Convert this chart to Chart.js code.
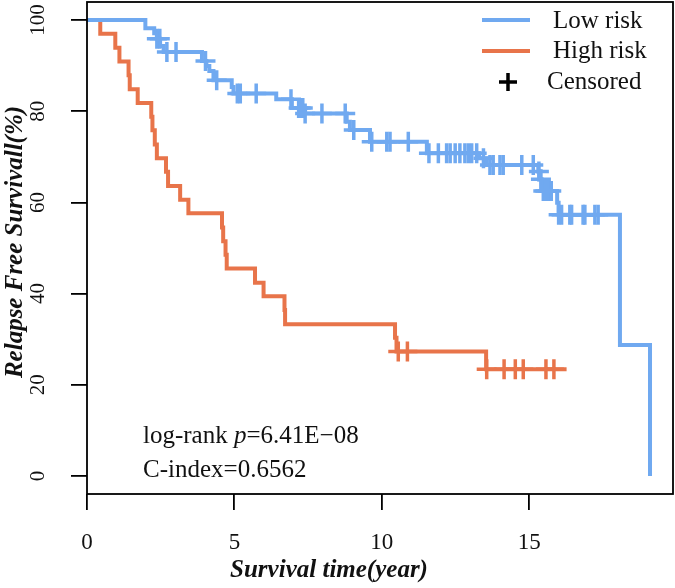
<!DOCTYPE html>
<html>
<head>
<meta charset="utf-8">
<script src="https://cdn.jsdelivr.net/npm/chart.js@4/dist/chart.umd.min.js"></script>
<style>
  html, body { margin: 0; padding: 0; background: #fff; }
  #wrap { width: 675px; height: 588px; }
</style>
</head>
<body>
<div id="wrap"><canvas id="km" width="675" height="588"></canvas></div>
<script>
// tick labels
const xTicks = [0, 5, 10, 15];
const yTicks = [0, 20, 40, 60, 80, 100];

// Low risk: step times (year) and survival (%) after each step
const lowTime = [0, 1.98, 2.28, 2.37, 2.48, 2.60, 3.90, 4.05, 4.15, 4.29, 4.91, 4.97, 6.42, 6.95, 7.40, 8.81, 8.92, 9.60, 11.53, 13.30, 13.56, 15.31, 15.35, 15.42, 15.95, 16.00, 18.08, 19.10];
const lowSurv = [100, 98.2, 97.1, 95.9, 94.3, 93.0, 91.0, 89.9, 88.8, 86.8, 85.3, 83.9, 82.6, 80.7, 79.5, 77.7, 75.9, 73.3, 70.8, 69.7, 68.2, 66.8, 65.1, 62.5, 59.9, 57.3, 28.7, 0];
const lowCens = [2.37, 2.47, 2.71, 3.02, 4.02, 4.40, 5.10, 5.20, 5.74, 6.92, 7.18, 7.25, 7.32, 7.40, 7.97, 8.76, 9.05, 9.66, 10.17, 10.28, 10.90, 11.60, 11.92, 12.20, 12.32, 12.49, 12.65, 12.82, 12.94, 13.05, 13.22, 13.45, 13.67, 13.78, 14.01, 14.12, 14.75, 15.14, 15.33, 15.40, 15.48, 15.55, 15.65, 15.75, 16.00, 16.10, 16.38, 16.44, 16.83, 16.89, 17.23, 17.34];

// High risk
const highTime = [0, 0.45, 0.96, 1.10, 1.41, 1.45, 1.72, 2.18, 2.22, 2.30, 2.37, 2.68, 2.75, 3.16, 3.44, 4.58, 4.62, 4.70, 4.74, 5.70, 5.99, 6.70, 6.72, 10.45, 10.50, 13.54, 16.27];
const highSurv = [100, 97.0, 93.9, 90.9, 87.9, 84.8, 81.8, 78.8, 75.8, 72.7, 69.7, 66.7, 63.6, 60.6, 57.6, 54.5, 51.5, 48.5, 45.5, 42.4, 39.4, 36.4, 33.3, 30.3, 27.3, 23.4, 23.4];
const highCens = [10.56, 10.87, 13.56, 14.15, 14.53, 14.80, 15.57, 15.84];

const blue = "#70a9f0";
const orange = "#e8744a";
const serif = "'Liberation Serif', 'Times New Roman', serif";

// value of the step curve at time t
const stepAt = (times, surv, t) => {
  let v = surv[0];
  times.forEach((x, i) => { if (x <= t) v = surv[i]; });
  return v;
};

const curve = (times, surv) => times.map((t, i) => ({x: t, y: surv[i]}));
const marks = (cens, times, surv) => cens.map(t => ({x: t, y: stepAt(times, surv, t)}));

const lineSet = (label, data, color) => ({
  label: label, data: data, borderColor: color, borderWidth: 4,
  pointRadius: 0, stepped: "before", fill: false, tension: 0
});
const censSet = (label, data, color) => ({
  label: label, data: data, showLine: false, pointStyle: "cross",
  pointRadius: 10, pointBorderWidth: 3.5, pointBorderColor: color, borderColor: color
});

const noPad = axis => {
  axis.paddingTop = 0; axis.paddingBottom = 0;
  axis.paddingLeft = 0; axis.paddingRight = 0;
};

// frame, legend and notes
const notes = {
  id: "notes",
  afterDraw(chart) {
    const {ctx, chartArea: a} = chart;
    ctx.save();
    ctx.strokeStyle = "#000";
    ctx.lineWidth = 1.8;
    ctx.strokeRect(a.left, a.top, a.right - a.left, a.bottom - a.top);

    // legend
    ctx.lineWidth = 4;
    ctx.strokeStyle = blue;
    ctx.beginPath(); ctx.moveTo(482, 20); ctx.lineTo(530, 20); ctx.stroke();
    ctx.strokeStyle = orange;
    ctx.beginPath(); ctx.moveTo(482, 51); ctx.lineTo(530, 51); ctx.stroke();
    ctx.strokeStyle = "#000";
    ctx.lineWidth = 3.5;
    ctx.beginPath();
    ctx.moveTo(499, 82); ctx.lineTo(517, 82);
    ctx.moveTo(508, 73); ctx.lineTo(508, 91);
    ctx.stroke();

    ctx.fillStyle = "#111";
    ctx.font = "25px " + serif;
    ctx.textBaseline = "middle";
    ctx.textAlign = "left";
    ctx.fillText("Low risk", 553, 21);
    ctx.fillText("High risk", 553, 51);
    ctx.fillText("Censored", 547, 82);

    // log-rank text
    ctx.textBaseline = "alphabetic";
    let x = 143;
    ctx.fillText("log-rank ", x, 443);
    x += ctx.measureText("log-rank ").width;
    ctx.font = "italic 25px " + serif;
    ctx.fillText("p", x, 443);
    x += ctx.measureText("p").width;
    ctx.font = "25px " + serif;
    ctx.fillText("=6.41E\u221208", x, 443);
    ctx.fillText("C-index=0.6562", 143, 477);

    // axis titles
    ctx.font = "bold italic 25px " + serif;
    ctx.textAlign = "center";
    ctx.textBaseline = "middle";
    ctx.fillText("Survival time(year)", 329, 571);
    ctx.translate(16, 242);
    ctx.rotate(-Math.PI / 2);
    ctx.fillText("Relapse Free Survivall(%)", 0, 0);
    ctx.restore();
  }
};

new Chart(document.getElementById("km"), {
  type: "line",
  data: {
    datasets: [
      lineSet("Low risk", curve(lowTime, lowSurv), blue),
      lineSet("High risk", curve(highTime, highSurv), orange),
      censSet("Low risk censored", marks(lowCens, lowTime, lowSurv), blue),
      censSet("High risk censored", marks(highCens, highTime, highSurv), orange)
    ]
  },
  options: {
    responsive: false,
    animation: false,
    layout: { autoPadding: false, padding: { top: 2, right: 2, left: 0, bottom: 0 } },
    plugins: { legend: { display: false }, tooltip: { enabled: false } },
    scales: {
      x: {
        type: "linear", min: 0, max: 19.88,
        afterBuildTicks: axis => { axis.ticks = xTicks.map(v => ({value: v})); },
        afterFit: axis => { axis.height = 94; noPad(axis); },
        border: { display: false },
        grid: { drawOnChartArea: false, tickLength: 16, color: "#000", lineWidth: 1.8 },
        ticks: { font: { family: serif, size: 23 }, color: "#111", padding: 19, maxRotation: 0, autoSkip: false }
      },
      y: {
        type: "linear", min: -3.95, max: 103.95,
        afterBuildTicks: axis => { axis.ticks = yTicks.map(v => ({value: v})); },
        afterFit: axis => { axis.width = 87; noPad(axis); },
        border: { display: false },
        grid: { drawOnChartArea: false, tickLength: 16, color: "#000", lineWidth: 1.8 },
        ticks: { font: { family: serif, size: 21 }, color: "#111", padding: 17, minRotation: 90, maxRotation: 90, crossAlign: "center", autoSkip: false }
      }
    }
  },
  plugins: [notes]
});
</script>
</body>
</html>
